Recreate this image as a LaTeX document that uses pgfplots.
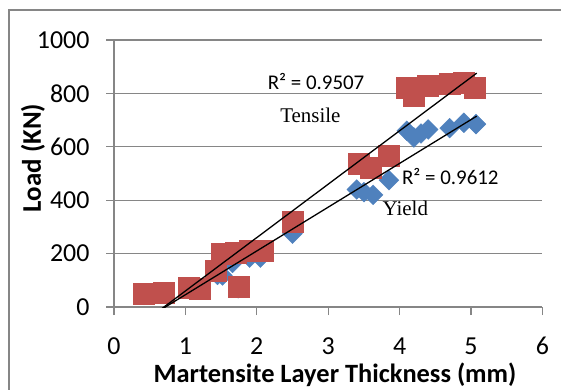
\documentclass[border=0pt]{standalone}
\usepackage{pgfplots}
\pgfplotsset{compat=1.18}
\usepackage{fontspec}
\setmainfont{Carlito}
\newfontfamily\serifx{Liberation Serif}
\definecolor{tred}{HTML}{C0504D}
\definecolor{yblue}{HTML}{4F81BD}
\definecolor{axgray}{HTML}{868686}
\begin{document}
\begin{tikzpicture}
\path[use as bounding box] (0,0) rectangle (561bp,-390bp);
\draw[axgray, line width=1.2bp] (9bp,-600bp) -- (9bp,-10bp) -- (700bp,-10bp);
\begin{axis}[
  at={(114bp,-307bp)}, anchor=south west,
  x=71.4bp, y=0.267bp,
  xmin=0, xmax=6, ymin=0, ymax=1000,
  axis x line=bottom, axis y line=left,
  axis line style={-, draw=axgray, line width=1.2bp},
  xtick={0,1,2,3,4,5,6}, ytick={0,200,400,600,800,1000},
  tick align=outside, major tick length=8bp,
  tick style={draw=axgray, line width=1.2bp},
  ymajorgrids, grid style={draw=axgray, line width=1.2bp},
  /pgf/number format/assume math mode=true,
  /pgf/number format/1000 sep={},
  tick label style={font=\fontsize{26}{30}\selectfont, text=black},
  xticklabel style={anchor=center, yshift=-31bp},
  yticklabel style={anchor=east, xshift=-13bp},
  clip mode=individual,
]
\addplot[only marks, mark=square*, mark size=7bp, mark options={fill=yblue, draw=yblue, rotate=45}] coordinates {
(0.42,45) (0.7,50) (1.06,67) (1.18,65) (1.45,120) (1.52,118) (1.66,165) (1.74,70)
(1.9,185) (2.05,185) (2.5,275) (3.4,440) (3.5,430) (3.63,420) (3.85,475)
(4.1,660) (4.2,635) (4.3,650) (4.4,665) (4.7,670) (4.9,690) (5.07,685)
};
\addplot[only marks, mark=square*, mark size=10.5bp, mark options={fill=tred, draw=tred}] coordinates {
(0.42,49) (0.7,52) (1.05,72) (1.2,70) (1.43,135) (1.51,200) (1.7,205) (1.74,75)
(1.9,210) (2.08,210) (2.5,320) (3.43,535) (3.6,520) (3.85,565)
(4.1,820) (4.2,790) (4.4,830) (4.7,835) (4.9,840) (5.05,820)
};
\begin{scope}
\clip (axis cs:0,0) rectangle (axis cs:6,1000);
\addplot[black, line width=1.3bp] coordinates {(0.4,-60) (5.08,876)};
\addplot[black, line width=1.3bp] coordinates {(0.4,-52.4) (5.08,715)};
\end{scope}
\node[font=\fontsize{21}{25}\selectfont] at (axis cs:2.83,845) {R² = 0.9507};
\node[font=\serifx\fontsize{21}{25}\selectfont] at (axis cs:2.75,718) {Tensile};
\node[font=\fontsize{21}{25}\selectfont] at (axis cs:4.71,490) {R² = 0.9612};
\node[font=\serifx\fontsize{21}{25}\selectfont] at (axis cs:4.08,370) {Yield};
\end{axis}
\node[rotate=90, font=\bfseries\fontsize{27}{31}\selectfont] at (33bp,-158bp) {Load (KN)};
\node[font=\bfseries\fontsize{26.5}{31}\selectfont] at (335bp,-375bp) {Martensite Layer Thickness (mm)};
\end{tikzpicture}
\end{document}
